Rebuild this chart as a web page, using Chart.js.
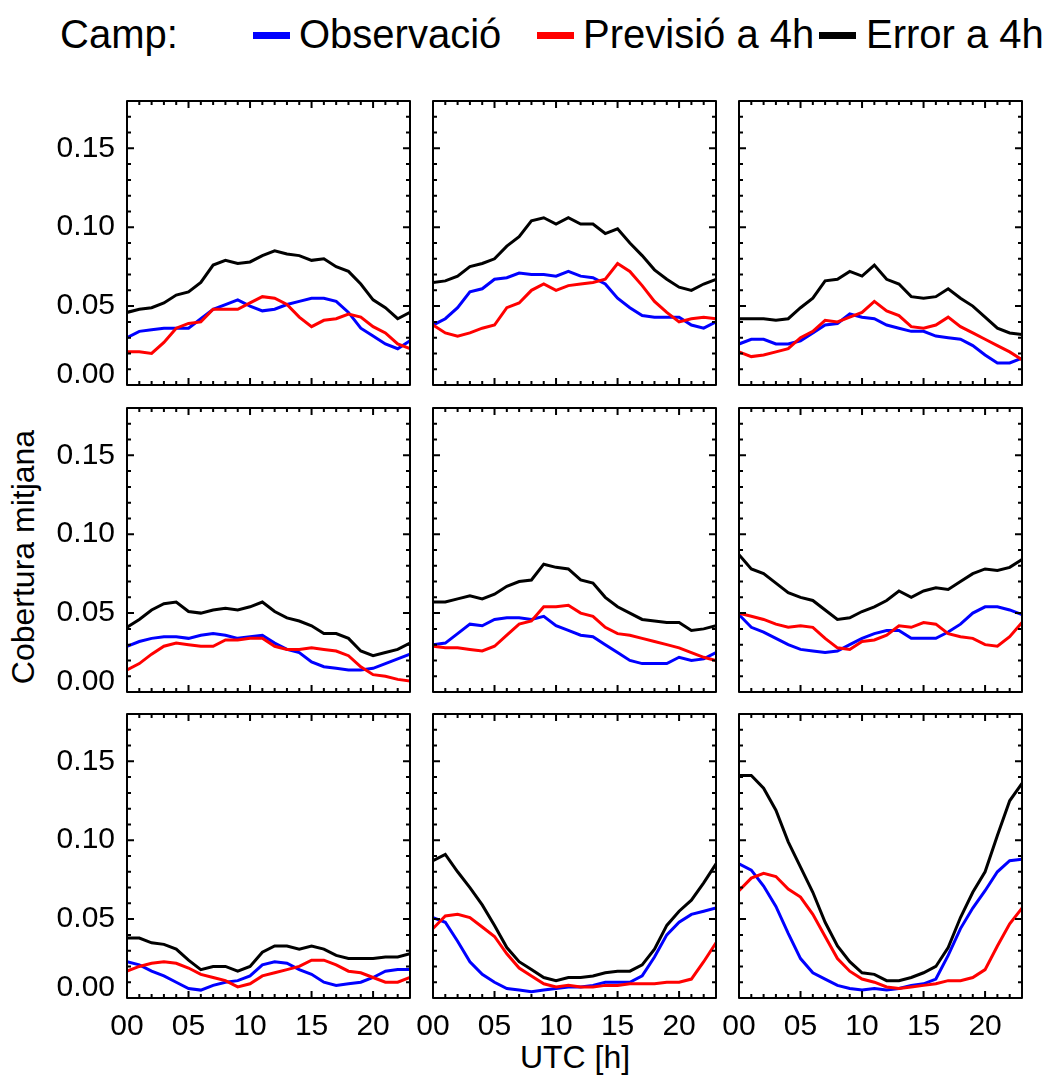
<!DOCTYPE html>
<html>
<head>
<meta charset="utf-8">
<script src="https://cdn.jsdelivr.net/npm/chart.js@4.4.1/dist/chart.umd.min.js"></script>
<style>
  body { margin: 0; background: #fff; width: 1048px; height: 1075px; position: relative; overflow: hidden;
         font-family: "Liberation Sans", Arial, sans-serif; color: #000; }
  canvas { position: absolute; }
  .txt { position: absolute; white-space: nowrap; line-height: 1; }
  .swatch { position: absolute; height: 7px; width: 37px; }
</style>
</head>
<body>
<div class="txt" style="left:60px;top:14px;font-size:40px">Camp:</div>
<div class="swatch" style="left:253px;top:32px;background:#0000ff"></div>
<div class="txt" style="left:299px;top:14px;font-size:40px">Observació</div>
<div class="swatch" style="left:537px;top:32px;background:#ff0000"></div>
<div class="txt" style="left:583px;top:14px;font-size:40px">Previsió a 4h</div>
<div class="swatch" style="left:819px;top:32px;background:#000000"></div>
<div class="txt" style="left:866px;top:14px;font-size:40px">Error a 4h</div>
<div class="txt" style="left:575px;top:1041px;font-size:32px;transform:translateX(-50%)">UTC [h]</div>
<div class="txt" style="left:23px;top:557px;font-size:32px;transform:translate(-50%,-50%) rotate(-90deg)">Cobertura mitjana</div>

<script>
// hours of the day (x axis)
const HOURS = [0, 1, 2, 3, 4, 5, 6, 7, 8, 9, 10, 11, 12, 13, 14, 15, 16, 17, 18, 19, 20, 21, 22, 23];
const Y_TICKS = [0, 0.05, 0.10, 0.15];

// row 1
const obsA  = [0.030,0.034,0.035,0.036,0.036,0.036,0.042,0.048,0.051,0.054,0.050,0.047,0.048,0.051,0.053,0.055,0.055,0.053,0.046,0.036,0.031,0.026,0.023,0.028];
const prevA = [0.021,0.021,0.020,0.027,0.036,0.039,0.040,0.048,0.048,0.048,0.052,0.056,0.055,0.051,0.043,0.037,0.041,0.042,0.045,0.043,0.037,0.033,0.026,0.023];
const errA  = [0.046,0.048,0.049,0.052,0.057,0.059,0.065,0.076,0.079,0.077,0.078,0.082,0.085,0.083,0.082,0.079,0.080,0.075,0.072,0.064,0.054,0.049,0.042,0.046];

const obsB  = [0.038,0.042,0.049,0.059,0.061,0.067,0.068,0.071,0.070,0.070,0.069,0.072,0.069,0.068,0.064,0.055,0.049,0.044,0.043,0.043,0.043,0.038,0.036,0.040];
const prevB = [0.038,0.033,0.031,0.033,0.036,0.038,0.049,0.052,0.060,0.064,0.060,0.063,0.064,0.065,0.067,0.077,0.072,0.063,0.053,0.046,0.040,0.042,0.043,0.042];
const errB  = [0.065,0.066,0.069,0.075,0.077,0.080,0.088,0.094,0.104,0.106,0.102,0.106,0.102,0.102,0.096,0.099,0.090,0.082,0.073,0.067,0.062,0.060,0.064,0.067];

const obsC  = [0.026,0.029,0.029,0.026,0.026,0.028,0.033,0.038,0.039,0.045,0.043,0.042,0.038,0.036,0.034,0.034,0.031,0.030,0.029,0.025,0.019,0.014,0.014,0.017];
const prevC = [0.021,0.018,0.019,0.021,0.023,0.030,0.034,0.041,0.040,0.043,0.046,0.053,0.047,0.044,0.037,0.036,0.038,0.043,0.037,0.033,0.029,0.025,0.021,0.016];
const errC  = [0.042,0.042,0.042,0.041,0.042,0.049,0.055,0.066,0.067,0.072,0.069,0.076,0.067,0.064,0.056,0.055,0.056,0.061,0.055,0.050,0.043,0.036,0.033,0.032];

// row 2
const obsD  = [0.029,0.032,0.034,0.035,0.035,0.034,0.036,0.037,0.036,0.034,0.035,0.036,0.031,0.027,0.025,0.019,0.016,0.015,0.014,0.014,0.015,0.018,0.021,0.024];
const prevD = [0.014,0.018,0.024,0.029,0.031,0.030,0.029,0.029,0.033,0.033,0.034,0.034,0.029,0.027,0.027,0.028,0.027,0.026,0.023,0.016,0.011,0.010,0.008,0.007];
const errD  = [0.041,0.046,0.052,0.056,0.057,0.051,0.050,0.052,0.053,0.052,0.054,0.057,0.051,0.047,0.045,0.042,0.037,0.037,0.034,0.026,0.023,0.025,0.027,0.031];

const obsE  = [0.030,0.031,0.037,0.043,0.042,0.046,0.047,0.047,0.046,0.048,0.042,0.039,0.036,0.035,0.030,0.025,0.020,0.018,0.018,0.018,0.022,0.020,0.021,0.025];
const prevE = [0.029,0.028,0.028,0.027,0.026,0.029,0.036,0.043,0.045,0.054,0.054,0.055,0.050,0.048,0.041,0.037,0.036,0.034,0.032,0.030,0.028,0.025,0.022,0.020];
const errE  = [0.057,0.057,0.059,0.061,0.059,0.062,0.067,0.070,0.071,0.081,0.079,0.078,0.071,0.069,0.060,0.054,0.050,0.046,0.045,0.044,0.044,0.039,0.040,0.042];

const obsF  = [0.049,0.041,0.038,0.034,0.030,0.027,0.026,0.025,0.026,0.030,0.034,0.037,0.039,0.039,0.034,0.034,0.034,0.038,0.043,0.050,0.054,0.054,0.052,0.049];
const prevF = [0.050,0.048,0.046,0.043,0.041,0.042,0.041,0.034,0.028,0.027,0.032,0.033,0.036,0.042,0.041,0.044,0.043,0.037,0.035,0.034,0.030,0.029,0.035,0.044];
const errF  = [0.087,0.078,0.075,0.069,0.063,0.060,0.058,0.052,0.046,0.047,0.051,0.054,0.058,0.064,0.060,0.064,0.066,0.065,0.070,0.075,0.078,0.077,0.079,0.084];

// row 3
const obsG  = [0.023,0.021,0.017,0.014,0.010,0.006,0.005,0.008,0.010,0.011,0.014,0.021,0.023,0.022,0.018,0.015,0.010,0.008,0.009,0.010,0.013,0.017,0.018,0.018];
const prevG = [0.017,0.020,0.022,0.023,0.022,0.019,0.015,0.013,0.011,0.007,0.009,0.014,0.016,0.018,0.020,0.024,0.024,0.021,0.017,0.016,0.013,0.010,0.010,0.013];
const errG  = [0.038,0.038,0.035,0.034,0.031,0.024,0.018,0.020,0.020,0.017,0.020,0.029,0.033,0.033,0.031,0.033,0.031,0.027,0.025,0.025,0.025,0.026,0.026,0.028];

const obsH  = [0.051,0.048,0.036,0.023,0.015,0.010,0.006,0.005,0.004,0.005,0.006,0.007,0.007,0.008,0.010,0.010,0.010,0.014,0.026,0.040,0.048,0.053,0.055,0.057];
const prevH = [0.044,0.052,0.053,0.051,0.045,0.039,0.028,0.019,0.014,0.009,0.007,0.008,0.007,0.007,0.008,0.008,0.009,0.009,0.009,0.010,0.010,0.012,0.023,0.035];
const errH  = [0.087,0.091,0.080,0.070,0.059,0.046,0.032,0.023,0.018,0.013,0.011,0.013,0.013,0.014,0.016,0.017,0.017,0.021,0.031,0.046,0.055,0.062,0.073,0.085];

const obsI  = [0.085,0.081,0.071,0.058,0.041,0.025,0.016,0.012,0.008,0.006,0.005,0.006,0.005,0.006,0.008,0.009,0.012,0.027,0.044,0.057,0.068,0.080,0.087,0.088];
const prevI = [0.068,0.076,0.079,0.077,0.069,0.064,0.053,0.039,0.025,0.017,0.012,0.010,0.007,0.006,0.007,0.008,0.009,0.011,0.011,0.013,0.018,0.033,0.047,0.057];
const errI  = [0.141,0.141,0.133,0.119,0.099,0.083,0.067,0.048,0.033,0.023,0.016,0.015,0.011,0.011,0.013,0.016,0.020,0.032,0.051,0.067,0.080,0.103,0.125,0.136];

const PANELS = [
  [obsA, prevA, errA], [obsB, prevB, errB], [obsC, prevC, errC],
  [obsD, prevD, errD], [obsE, prevE, errE], [obsF, prevF, errF],
  [obsG, prevG, errG], [obsH, prevH, errH], [obsI, prevI, errI]
];

const COL_LEFT = [127, 433, 739];
const ROW_TOP = [101, 408, 714];
const PLOT_W = 283, PLOT_H = 284;
const AXIS_W = 125, AXIS_H = 70, PAD_T = 10, PAD_R = 10;

Chart.defaults.font.family = '"Liberation Sans", Arial, sans-serif';
Chart.defaults.color = '#000';

// box round the plot with inward ticks on all four sides (IDL style)
const framePlugin = {
  id: 'frame',
  afterDraw(chart) {
    const { ctx, chartArea: a, scales: { x, y } } = chart;
    ctx.save();
    ctx.strokeStyle = '#000';
    ctx.lineWidth = 2;
    ctx.beginPath();
    for (let h = 1; h < 23; h++) {
      const px = x.getPixelForValue(h);
      const len = h % 5 === 0 ? 7 : 4;
      ctx.moveTo(px, a.bottom); ctx.lineTo(px, a.bottom - len);
      ctx.moveTo(px, a.top); ctx.lineTo(px, a.top + len);
    }
    for (let k = 1; k < 18; k++) {
      const py = y.getPixelForValue(k / 100);
      const len = k % 5 === 0 ? 7 : 4;
      ctx.moveTo(a.left, py); ctx.lineTo(a.left + len, py);
      ctx.moveTo(a.right, py); ctx.lineTo(a.right - len, py);
    }
    ctx.stroke();
    ctx.lineJoin = 'round';
    ctx.strokeRect(a.left, a.top, a.right - a.left, a.bottom - a.top);
    ctx.restore();
  }
};

// fixed axis size, and no extra room for half labels
function fixSize(prop, size) {
  return s => {
    s[prop] = size;
    s.paddingTop = s.paddingBottom = s.paddingLeft = s.paddingRight = 0;
  };
}

PANELS.forEach(([obs, prev, err], i) => {
  const col = i % 3, row = Math.floor(i / 3);
  const canvas = document.createElement('canvas');
  canvas.width = AXIS_W + PLOT_W + PAD_R;
  canvas.height = PAD_T + PLOT_H + AXIS_H;
  canvas.style.left = (COL_LEFT[col] - AXIS_W) + 'px';
  canvas.style.top = (ROW_TOP[row] - PAD_T) + 'px';
  document.body.appendChild(canvas);

  new Chart(canvas, {
    type: 'line',
    data: {
      labels: HOURS,
      datasets: [
        { label: 'Observació', data: obs, borderColor: '#0000ff', order: 3 },
        { label: 'Previsió a 4h', data: prev, borderColor: '#ff0000', order: 2 },
        { label: 'Error a 4h', data: err, borderColor: '#000000', order: 1 }
      ]
    },
    options: {
      responsive: false,
      animation: false,
      devicePixelRatio: 1,
      layout: { padding: { top: PAD_T, right: PAD_R, left: 0, bottom: 0 } },
      elements: {
        point: { radius: 0 },
        line: { borderWidth: 3, tension: 0, fill: false }
      },
      plugins: { legend: { display: false }, tooltip: { enabled: false } },
      scales: {
        x: {
          type: 'linear', min: 0, max: 23,
          grid: { display: false, drawTicks: false },
          border: { display: false },
          afterFit: fixSize('height', AXIS_H),
          ticks: {
            display: row === 2,
            stepSize: 5, includeBounds: false, autoSkip: false, maxRotation: 0,
            padding: 14,
            font: { size: 30, lineHeight: 1 },
            callback: v => String(v).padStart(2, '0')
          }
        },
        y: {
          type: 'linear', min: 0, max: 0.18,
          grid: { display: false, drawTicks: false },
          border: { display: false },
          afterFit: fixSize('width', AXIS_W),
          afterBuildTicks: s => { s.ticks = Y_TICKS.map(v => ({ value: v })); },
          ticks: {
            display: col === 0,
            padding: 12,
            font: { size: 30, lineHeight: '20px' },
            // the bottom label sits a little above its tick, as in the original
            callback: v => v === 0 ? [v.toFixed(2), ''] : v.toFixed(2)
          }
        }
      }
    },
    plugins: [framePlugin]
  });
});
</script>
</body>
</html>
